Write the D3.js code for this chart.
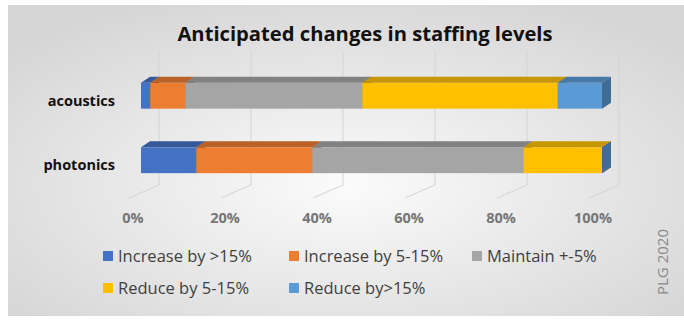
<!DOCTYPE html>
<html>
<head>
<meta charset="utf-8">
<script src="https://cdn.jsdelivr.net/npm/d3@7"></script>
<style>
  body { margin: 0; background: #fff; }
  svg { display: block; font-family: "Open Sans", Lato, sans-serif; }
</style>
</head>
<body>
<svg id="chart"></svg>
<script>
var categories = ["acoustics", "photonics"];
var seriesNames = ["Increase by >15%", "Increase by 5-15%", "Maintain +-5%", "Reduce by 5-15%", "Reduce by>15%"];
var seriesColors = ["#4472C4", "#ED7D31", "#A5A5A5", "#FFC000", "#5B9BD5"];
// percent values per category, in series order
var acoustics = [2, 7.6, 38.4, 42.4, 9.6];
var photonics = [12, 25.2, 45.8, 17, 0];
var tickValues = [0, 20, 40, 60, 80, 100];

var width = 684;
var height = 320;
var depthX = 9;
var depthY = 6;

var svg = d3.select("#chart").attr("width", width).attr("height", height);

// background with soft radial shading
var grad = svg.append("defs").append("radialGradient")
  .attr("id", "bg")
  .attr("cx", "50%").attr("cy", "58%").attr("r", "65%");
grad.append("stop").attr("offset", "0%").attr("stop-color", "#fbfbfb");
grad.append("stop").attr("offset", "100%").attr("stop-color", "#d6d6d6");

svg.append("rect")
  .attr("x", 8).attr("y", 5)
  .attr("width", width - 8).attr("height", 311)
  .attr("fill", "url(#bg)");

var rows = [acoustics, photonics];

var x = d3.scaleLinear().domain([0, 100]).range([141, 602]);     // front face
var xBack = d3.scaleLinear().domain([0, 100]).range([159, 619]); // back wall
var xLabel = d3.scaleLinear().domain([0, 100]).range([133, 593]);

var y = d3.scaleBand()
  .domain(categories)
  .range([63.5, 192.5])
  .paddingInner(0.6)
  .paddingOuter(0.3);

// back wall gridlines + floor lines
var grid = svg.append("g").attr("stroke", "#d4d4d4").attr("stroke-width", 1).attr("fill", "none");
grid.selectAll(".wall")
  .data(tickValues)
  .enter()
  .append("line")
  .attr("x1", (d) => xBack(d)).attr("x2", (d) => xBack(d))
  .attr("y1", 52).attr("y2", 185);
grid.selectAll(".floor")
  .data(tickValues)
  .enter()
  .append("line")
  .attr("x1", (d) => xBack(d)).attr("y1", 185)
  .attr("x2", (d) => xBack(d) - 30).attr("y2", 198);

// title
svg.append("text")
  .attr("x", 365).attr("y", 41)
  .attr("text-anchor", "middle")
  .attr("font-size", 20.2).attr("font-weight", "bold")
  .attr("fill", "#111")
  .text("Anticipated changes in staffing levels");

// stacked 3d bars
var bars = svg.append("g");
categories.forEach(function (cat, ci) {
  var vals = rows[ci];
  var stacked = d3.cumsum(vals);
  var top = y(cat);
  var h = y.bandwidth();
  vals.forEach(function (v, si) {
    var x0 = x(stacked[si] - v);
    var x1 = x(stacked[si]);
    var c = d3.color(seriesColors[si]);
    if (v > 0) {
      bars.append("rect")
        .attr("x", x0).attr("y", top)
        .attr("width", x1 - x0).attr("height", h)
        .attr("fill", c);
      bars.append("path")
        .attr("d", `M${x0},${top}L${x0 + depthX},${top - depthY}L${x1 + depthX},${top - depthY}L${x1},${top}Z`)
        .attr("fill", c.darker(0.7));
    }
    bars.append("path")
      .attr("d", `M${x1},${top}L${x1 + depthX},${top - depthY}L${x1 + depthX},${top + h - depthY}L${x1},${top + h}Z`)
      .attr("fill", c.darker(1));
  });
});

// category labels
svg.append("g")
  .selectAll("text")
  .data(categories)
  .enter()
  .append("text")
  .attr("x", 115)
  .attr("y", (d) => y(d) + y.bandwidth() / 2 + 10)
  .attr("text-anchor", "end")
  .attr("font-size", 14.5).attr("font-weight", "bold")
  .attr("fill", "#111")
  .text((d) => d);

// x tick labels
svg.append("g")
  .selectAll("text")
  .data(tickValues)
  .enter()
  .append("text")
  .attr("x", (d) => xLabel(d))
  .attr("y", 223)
  .attr("text-anchor", "middle")
  .attr("font-size", 14.5).attr("font-weight", "bold")
  .attr("fill", "#767676")
  .text((d) => d + "%");

// legend
var legendPos = [[103, 256], [289, 256], [472, 256], [103, 288], [289, 288]];
var legend = svg.append("g")
  .selectAll("g")
  .data(seriesNames)
  .enter()
  .append("g")
  .attr("transform", (d, i) => `translate(${legendPos[i][0]}, ${legendPos[i][1]})`);
legend.append("rect")
  .attr("x", 0).attr("y", -5)
  .attr("width", 10).attr("height", 10)
  .attr("fill", (d, i) => seriesColors[i]);
legend.append("text")
  .attr("x", 15).attr("y", 6)
  .attr("font-size", 16.5)
  .attr("fill", "#404040")
  .text((d) => d);

// watermark
svg.append("text")
  .attr("transform", "translate(668, 262) rotate(-90)")
  .attr("text-anchor", "middle")
  .attr("font-size", 15)
  .attr("fill", "#8a8a8a")
  .text("PLG 2020");
</script>
</body>
</html>
